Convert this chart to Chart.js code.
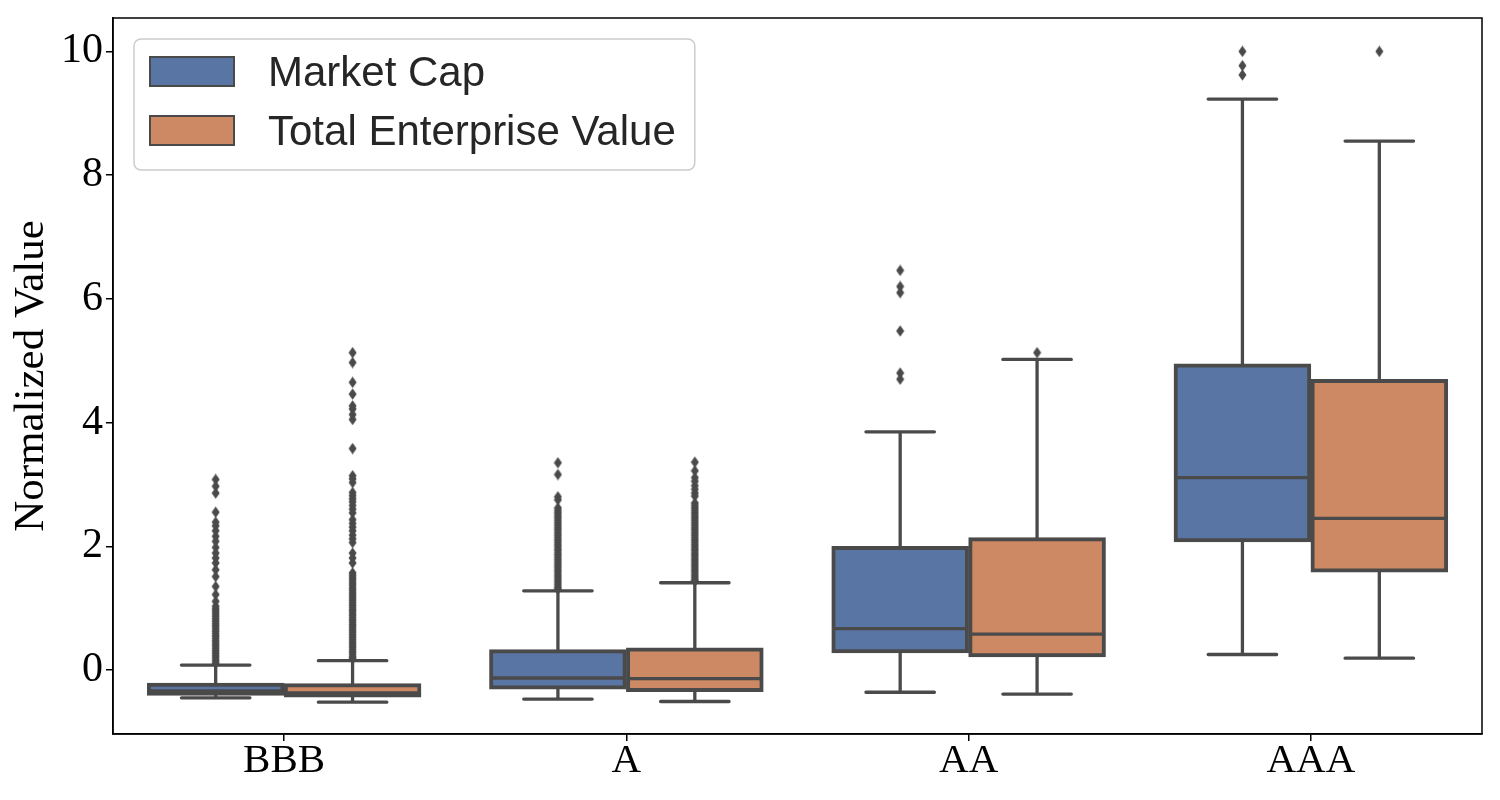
<!DOCTYPE html>
<html><head><meta charset="utf-8">
<script src="https://cdn.jsdelivr.net/npm/chart.js@4.4.1/dist/chart.umd.min.js"></script>
<style>html,body{margin:0;padding:0;background:#fff;}#wrap{width:1500px;height:800px;position:relative;}</style>
</head><body><div id="wrap"><canvas id="c" width="1500" height="800"></canvas></div>
<script>
const categories = ['BBB', 'A', 'AA', 'AAA'];
const seriesNames = ['Market Cap', 'Total Enterprise Value'];
const yTicks = [0, 2, 4, 6, 8, 10];

// Market Cap box stats
const mcLow  = [-0.45, -0.47, -0.36, 0.25];
const mcQ1   = [-0.41, -0.31, 0.275, 2.07];
const mcMed  = [-0.34, -0.13, 0.67, 3.11];
const mcQ3   = [-0.21, 0.33, 2.00, 4.95];
const mcHigh = [0.08, 1.28, 3.85, 9.23];
// Total Enterprise Value box stats
const tevLow  = [-0.52, -0.51, -0.39, 0.19];
const tevQ1   = [-0.44, -0.35, 0.21, 1.58];
const tevMed  = [-0.37, -0.14, 0.58, 2.45];
const tevQ3   = [-0.22, 0.36, 2.14, 4.70];
const tevHigh = [0.15, 1.41, 5.02, 8.55];

// Outliers
const mcOutBBB = [3.08, 2.97, 2.86, 2.55, 2.39, 2.33, 2.25, 2.16, 2.08, 1.98, 1.89, 1.81, 1.73, 1.62, 1.51, 1.35, 1.22, 1.11,
  1.03, 0.99, 0.95, 0.91, 0.87, 0.83, 0.79, 0.75, 0.71, 0.67, 0.63, 0.59, 0.55, 0.51, 0.47, 0.43, 0.39, 0.35, 0.31, 0.27, 0.23, 0.19, 0.15, 0.11];
const mcOutA = [3.35, 3.16, 2.80, 2.75, 2.62, 2.58, 2.54, 2.50, 2.46, 2.42, 2.38, 2.34, 2.30, 2.26, 2.22, 2.18, 2.14, 2.10, 2.06, 2.02,
  1.98, 1.94, 1.90, 1.86, 1.82, 1.78, 1.74, 1.70, 1.66, 1.62, 1.58, 1.54, 1.50, 1.46, 1.42, 1.38, 1.34, 1.31];
const mcOutAA = [6.46, 6.20, 6.10, 5.48, 4.80, 4.70];
const mcOutAAA = [10.0, 9.77, 9.62];
const tevOutBBB = [5.13, 4.97, 4.65, 4.46, 4.27, 4.22, 4.13, 4.05, 3.58, 3.14, 3.09, 3.03, 2.87, 2.82, 2.77, 2.72, 2.66, 2.60, 2.54,
  2.43, 2.37, 2.31, 2.25, 2.18, 2.12, 2.06, 1.89, 1.81, 1.73, 1.57, 1.53, 1.49, 1.45, 1.41, 1.37, 1.33, 1.29, 1.25, 1.21, 1.17, 1.13,
  1.09, 1.05, 1.01, 0.97, 0.93, 0.89, 0.85, 0.81, 0.77, 0.73, 0.69, 0.65, 0.61, 0.57, 0.53, 0.49, 0.45, 0.41, 0.37, 0.33, 0.29, 0.25, 0.21, 0.18];
const tevOutA = [3.36, 3.22, 3.11, 3.05, 2.98, 2.92, 2.86, 2.81, 2.70, 2.66, 2.62, 2.58, 2.54, 2.50, 2.46, 2.42, 2.38, 2.34, 2.30, 2.26,
  2.22, 2.18, 2.14, 2.10, 2.06, 2.02, 1.98, 1.94, 1.90, 1.86, 1.82, 1.78, 1.74, 1.70, 1.66, 1.62, 1.58, 1.54, 1.50, 1.46, 1.44];
const tevOutAA = [5.13];
const tevOutAAA = [10.0];

const mcOutliers = [mcOutBBB, mcOutA, mcOutAA, mcOutAAA];
const tevOutliers = [tevOutBBB, tevOutA, tevOutAA, tevOutAAA];

const colors = ['#5875a4', '#cc8963'];
const lineColor = '#4a4a4a';

const stats = [
  {low: mcLow, q1: mcQ1, med: mcMed, q3: mcQ3, high: mcHigh, out: mcOutliers},
  {low: tevLow, q1: tevQ1, med: tevMed, q3: tevQ3, high: tevHigh, out: tevOutliers}
];
const offsets = [-0.2, 0.2];
const halfBox = 0.2, halfCap = 0.1;

function linePoints(s, k) {
  const pts = [];
  const gap = (x) => pts.push({x: x, y: null});
  categories.forEach((c, i) => {
    const cx = i + offsets[k];
    pts.push({x: cx, y: s.q3[i]}, {x: cx, y: s.high[i]}); gap(cx);
    pts.push({x: cx, y: s.q1[i]}, {x: cx, y: s.low[i]}); gap(cx);
    pts.push({x: cx - halfCap, y: s.high[i]}, {x: cx + halfCap, y: s.high[i]}); gap(cx);
    pts.push({x: cx - halfCap, y: s.low[i]}, {x: cx + halfCap, y: s.low[i]}); gap(cx);
    pts.push({x: cx - halfBox + 0.006, y: s.med[i]}, {x: cx + halfBox - 0.006, y: s.med[i]}); gap(cx);
  });
  return pts;
}
function outlierPoints(s, k) {
  const pts = [];
  categories.forEach((c, i) => s.out[i].forEach(v => pts.push({x: i + offsets[k], y: v})));
  return pts;
}

// thin diamond marker
const dm = document.createElement('canvas');
dm.width = 9; dm.height = 12;
(function(){ const g = dm.getContext('2d'); g.fillStyle = lineColor; g.beginPath();
  g.moveTo(4.5, 0.2); g.lineTo(8.5, 6); g.lineTo(4.5, 11.8); g.lineTo(0.5, 6); g.closePath(); g.fill(); })();

const datasets = [];
stats.forEach((s, k) => {
  datasets.push({
    type: 'bar', label: seriesNames[k], xAxisID: 'x2', yAxisID: 'y', order: 10,
    data: categories.map((c, i) => ({x: i + offsets[k], y: [s.q1[i], s.q3[i]]})),
    backgroundColor: colors[k], borderColor: lineColor, borderWidth: 4, borderSkipped: false,
    grouped: false, barPercentage: 1.0, categoryPercentage: 1.0
  });
});
stats.forEach((s, k) => {
  datasets.push({
    type: 'line', label: seriesNames[k] + ' whiskers', xAxisID: 'x2', yAxisID: 'y', order: 2,
    data: linePoints(s, k), borderColor: lineColor, borderWidth: 3.3, pointRadius: 0, spanGaps: false, fill: false,
    borderCapStyle: 'round', tension: 0
  });
  datasets.push({
    type: 'scatter', label: seriesNames[k] + ' outliers', xAxisID: 'x2', yAxisID: 'y', order: 1,
    data: outlierPoints(s, k), pointStyle: dm, pointRadius: 6, backgroundColor: lineColor, borderColor: lineColor
  });
});

const framePlugin = {
  id: 'frame',
  afterDraw(chart) {
    const ctx = chart.ctx, a = chart.chartArea;
    ctx.save();
    ctx.strokeStyle = '#000'; ctx.lineWidth = 1.5;
    ctx.strokeRect(a.left, a.top, a.right - a.left, a.bottom - a.top);
    // legend
    const x0 = a.left + 21, y0 = a.top + 21;
    ctx.font = '42px "Liberation Sans", Arial, sans-serif';
    const textX = x0 + 134;
    const maxW = Math.max(...seriesNames.map(t => ctx.measureText(t).width));
    const w = textX + maxW + 19 - x0, h = 131, r = 7;
    ctx.beginPath();
    ctx.moveTo(x0 + r, y0); ctx.lineTo(x0 + w - r, y0); ctx.arcTo(x0 + w, y0, x0 + w, y0 + r, r);
    ctx.lineTo(x0 + w, y0 + h - r); ctx.arcTo(x0 + w, y0 + h, x0 + w - r, y0 + h, r);
    ctx.lineTo(x0 + r, y0 + h); ctx.arcTo(x0, y0 + h, x0, y0 + h - r, r);
    ctx.lineTo(x0, y0 + r); ctx.arcTo(x0, y0, x0 + r, y0, r); ctx.closePath();
    ctx.fillStyle = 'rgba(255,255,255,0.8)'; ctx.fill();
    ctx.strokeStyle = '#cccccc'; ctx.lineWidth = 1.5; ctx.stroke();
    seriesNames.forEach((name, i) => {
      const hy = y0 + 18 + i * 59;
      ctx.fillStyle = colors[i]; ctx.fillRect(x0 + 16, hy, 84, 29);
      ctx.strokeStyle = lineColor; ctx.lineWidth = 2; ctx.strokeRect(x0 + 16, hy, 84, 29);
      ctx.fillStyle = '#262626'; ctx.textBaseline = 'alphabetic'; ctx.textAlign = 'left';
      ctx.fillText(name, textX, hy + 29);
    });
    ctx.restore();
  }
};

new Chart(document.getElementById('c'), {
  type: 'bar',
  data: {labels: categories, datasets: datasets},
  options: {
    responsive: false, animation: false, events: [], devicePixelRatio: 1,
    layout: {padding: {top: 18, right: 18, left: 0, bottom: 0}},
    plugins: {legend: {display: false}, tooltip: {enabled: false}},
    scales: {
      x: {
        type: 'category', offset: true,
        grid: {display: true, offset: false, drawOnChartArea: false, drawTicks: true, tickLength: 7, color: '#000', lineWidth: 1.5},
        border: {display: true, color: '#000', width: 1.5},
        ticks: {color: '#000', font: {family: 'Liberation Serif', size: 41}, padding: -4, maxRotation: 0, autoSkip: false},
        afterFit: s => { s.height = 66; s.paddingLeft = 0; s.paddingRight = 0; }
      },
      x2: {type: 'linear', display: false, min: -0.5, max: 3.5, offset: false, grid: {offset: false}, ticks: {stepSize: 1}},
      y: {
        min: -1.035, max: 10.54,
        afterBuildTicks: s => { s.ticks = yTicks.map(v => ({value: v})); },
        grid: {display: true, drawOnChartArea: false, drawTicks: true, tickLength: 7, color: '#000', lineWidth: 1.5},
        border: {display: true, color: '#000', width: 1.5},
        ticks: {color: '#000', font: {family: 'Liberation Serif', size: 42}, padding: 3},
        title: {display: true, text: 'Normalized Value', color: '#000', font: {family: 'Liberation Serif', size: 43}, padding: {top: 6, bottom: 4}},
        afterFit: s => { s.width = 113; s.paddingTop = 0; s.paddingBottom = 0; }
      }
    }
  },
  plugins: [framePlugin]
});
</script></body></html>
